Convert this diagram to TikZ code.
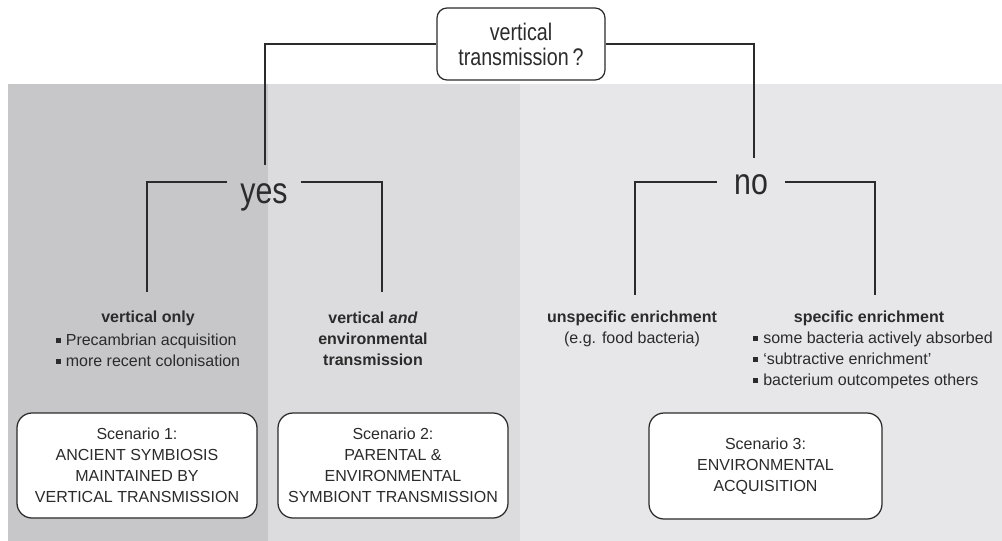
\documentclass[tikz,border=0pt]{standalone}
\usepackage{fontspec}
\setmainfont{Liberation Sans}
\newfontfamily\narrowfont[FakeStretch=0.82]{Liberation Sans}
\definecolor{bgA}{HTML}{C7C7CA}
\definecolor{bgB}{HTML}{DCDCDE}
\definecolor{bgC}{HTML}{E7E7E9}
\definecolor{ink}{HTML}{2B2B2B}
\newcommand\sqbul{\rule[2pt]{5pt}{5pt}\hspace{5pt}}
\begin{document}
\begin{tikzpicture}[x=1pt,y=-1pt,
  line/.style={draw=ink,line width=1.25pt},
  sbox/.style={draw=ink,line width=1.25pt,rounded corners=15pt,fill=white,text=ink,
    font=\fontsize{16}{21}\selectfont,align=center,inner sep=0pt},
  txt/.style={text=ink,font=\fontsize{16}{21}\selectfont,inner sep=0pt,align=center},
  btxt/.style={txt,font=\bfseries\fontsize{16}{21}\selectfont},
  yn/.style={text=ink,font=\narrowfont\fontsize{37}{37}\selectfont,inner ysep=0pt,anchor=base}]
\useasboundingbox (0,0) rectangle (1002,541);
% backgrounds
\fill[bgA] (8,84) rectangle (268,541);
\fill[bgB] (268,84) rectangle (520,541);
\fill[bgC] (520,84) rectangle (1002,541);
% question
\node[sbox,rounded corners=10pt,minimum width=168pt,minimum height=72pt,
  font=\narrowfont\fontsize{24}{25}\selectfont] (q) at (521,44) {vertical\\transmission\,?};
\coordinate (yT) at (265,165);
\coordinate (nT) at (754,158);
\draw[line] (q.west) -| (yT);
\draw[line] (q.east) -| (nT);
% yes / no
\node[yn,inner xsep=13pt] (yes) at (264,203) {yes};
\node[yn,inner xsep=17pt] (no) at (751,194) {no};
\coordinate (lev) at (0,182);
\coordinate (a1) at (147,292);
\coordinate (a2) at (382,292);
\coordinate (b1) at (635,295);
\coordinate (b2) at (875,295);
\draw[line] (yes.west |- lev) -| (a1);
\draw[line] (yes.east |- lev) -| (a2);
\draw[line] (no.west |- lev) -| (b1);
\draw[line] (no.east |- lev) -| (b2);
% texts
\node[btxt] (vo) at (148,318) {vertical only};
\node[txt,align=left] (vol) at (148,350) {\sqbul Precambrian acquisition\\\sqbul more recent colonisation};
\node[btxt] (ve) at (373,339) {vertical \textit{and}\\environmental\\transmission};
\node[btxt] (ue) at (632,318) {unspecific enrichment};
\node[txt] (eg) at (632,339) {(e.g. food bacteria)};
\node[btxt] (se) at (869,318) {specific enrichment};
\node[txt,align=left] (sel) at (873,360) {\sqbul some bacteria actively absorbed\\\sqbul `subtractive enrichment'\\\sqbul bacterium outcompetes others};
% scenarios
\node[sbox,minimum width=240pt,minimum height=105pt] (s1) at (137,465.5)
  {Scenario 1:\\ANCIENT SYMBIOSIS\\MAINTAINED BY\\VERTICAL TRANSMISSION};
\node[sbox,minimum width=230pt,minimum height=105pt] (s2) at (393,465.5)
  {Scenario 2:\\PARENTAL \&\\ENVIRONMENTAL\\SYMBIONT TRANSMISSION};
\node[sbox,minimum width=233pt,minimum height=106pt] (s3) at (765.5,466)
  {Scenario 3:\\ENVIRONMENTAL\\ACQUISITION};
\end{tikzpicture}
\end{document}
